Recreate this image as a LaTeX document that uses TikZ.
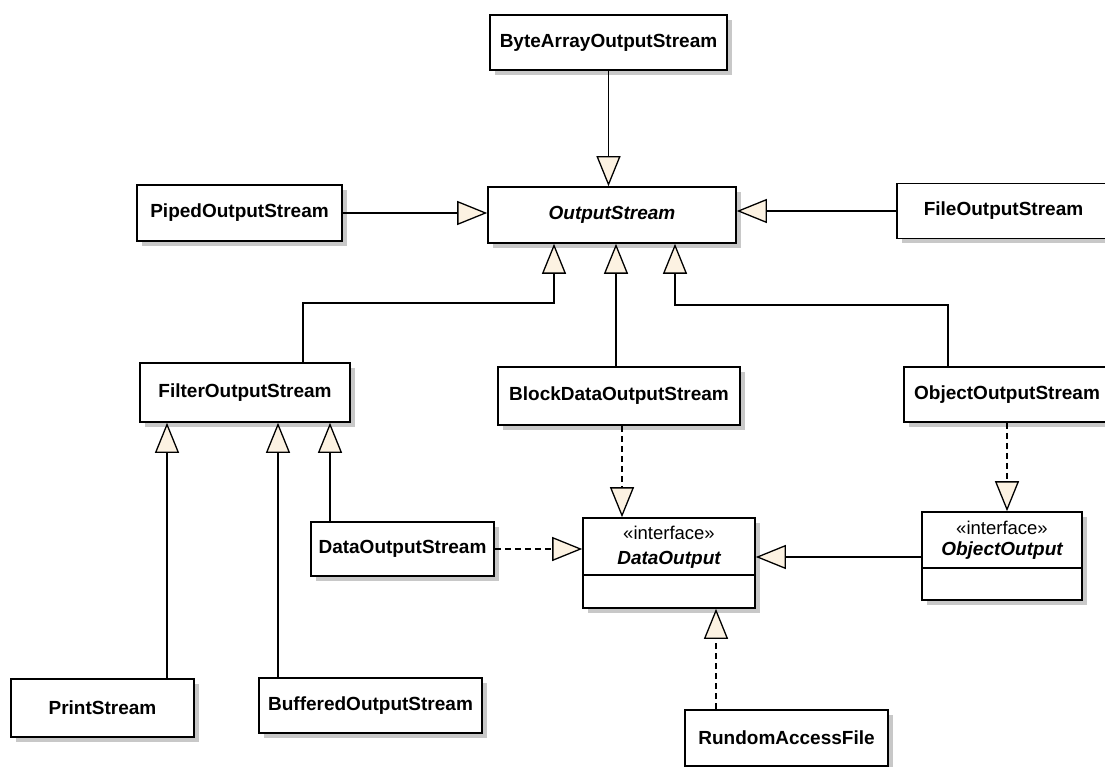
\documentclass[tikz,border=0pt]{standalone}
\usepackage{fontspec}
\setmainfont{Liberation Sans}
\usetikzlibrary{arrows.meta,shadows}
\definecolor{cream}{HTML}{FCF2E2}
\definecolor{shade}{HTML}{C8C8C8}
\tikzset{
  cls/.style 2 args={draw, line width=1.6pt, fill=white, inner sep=0pt,
    minimum width=#1, minimum height=#2,
    font=\fontsize{19}{22}\selectfont\bfseries,
    drop shadow={shadow xshift=5pt, shadow yshift=-5pt, fill=shade, opacity=1}},
  stereo/.style={inner sep=0pt, font=\fontsize{18.5}{22}\selectfont},
  iname/.style={inner sep=0pt, font=\fontsize{19}{22}\selectfont\bfseries\itshape},
  gen/.style={line width=1.5pt, -{Triangle[length=30pt, width=24pt, fill=cream, line width=1.3pt]}},
  real/.style={gen, dash pattern=on 6pt off 4pt}
}
\begin{document}
\begin{tikzpicture}[x=1pt, y=-1pt]
  \useasboundingbox (0,0) rectangle (1105,767);
  \clip (0,0) rectangle (1105,767);
  % classes
  \node[cls={237pt}{55pt}] (byte) at (608.5,42.5) {ByteArrayOutputStream};
  \node[cls={248pt}{56pt}] (os) at (612,215) {\itshape OutputStream};
  \node[cls={205pt}{56pt}] (piped) at (239.5,213) {PipedOutputStream};
  \node[cls={213pt}{55pt}] (file) at (1003.5,211) {FileOutputStream};
  \node[cls={210pt}{59pt}] (filter) at (245,392.5) {FilterOutputStream};
  \node[cls={242pt}{58pt}] (block) at (619,396) {BlockDataOutputStream};
  \node[cls={206pt}{55pt}] (objos) at (1007,394.5) {ObjectOutputStream};
  \node[cls={183pt}{54pt}] (dos) at (402.5,549) {DataOutputStream};
  \node[cls={183pt}{58pt}] (print) at (102.5,708) {PrintStream};
  \node[cls={223pt}{55pt}] (buff) at (370.5,705.5) {BufferedOutputStream};
  \node[cls={203pt}{56pt}] (rund) at (786.5,738) {RundomAccessFile};
  % interfaces
  \node[cls={172pt}{90pt}] (dout) at (669,563) {};
  \node[stereo] (doutst) at (669,533) {«interface»};
  \node[iname] (doutnm) at (669,560) {DataOutput};
  \draw[line width=1.6pt] (dout.west |- 0,575) -- (dout.east |- 0,575);
  \node[cls={160pt}{88pt}] (oout) at (1002,556) {};
  \node[stereo] (ooutst) at (1002,528) {«interface»};
  \node[iname] (ooutnm) at (1002,551) {ObjectOutput};
  \draw[line width=1.6pt] (oout.west |- 0,568) -- (oout.east |- 0,568);
  % generalizations
  \draw[gen] (byte.south) -- (byte.south |- os.north);
  \draw[gen] (piped.east) -- (piped.east -| os.west);
  \draw[gen] (file.west) -- (file.west -| os.east);
  \draw[gen] (filter.north -| 303,0) |- (554,303) -- (os.south -| 554,0);
  \draw[gen] (block.north -| 616,0) -- (os.south -| 616,0);
  \draw[gen] (objos.north -| 948,0) |- (675,305) -- (os.south -| 675,0);
  \draw[gen] (print.north -| 167,0) -- (filter.south -| 167,0);
  \draw[gen] (buff.north -| 278,0) -- (filter.south -| 278,0);
  \draw[gen] (dos.north -| 330,0) -- (filter.south -| 330,0);
  \draw[gen] (oout.west |- 0,557) -- (dout.east |- 0,557);
  % realizations
  \draw[real] (dos.east) -- (dos.east -| dout.west);
  \draw[real] (block.south -| 622,0) -- (dout.north -| 622,0);
  \draw[real] (objos.south -| 1007,0) -- (oout.north -| 1007,0);
  \draw[real] (rund.north -| 716,0) -- (dout.south -| 716,0);
\end{tikzpicture}
\end{document}
